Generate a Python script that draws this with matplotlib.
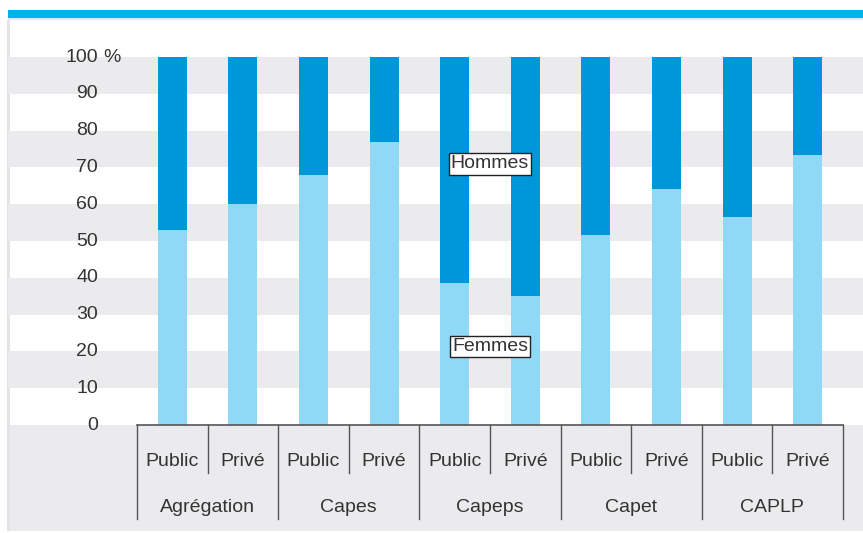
import matplotlib
matplotlib.use("Agg")
import matplotlib.pyplot as plt
from matplotlib.patches import Rectangle
import matplotlib.font_manager as fm

# ---- data ----
groups = ["Agrégation", "Capes", "Capeps", "Capet", "CAPLP"]
sectors = ["Public", "Privé"]
femmes = [53, 60, 68, 77, 38.5, 35, 51.5, 64, 56.5, 73.5]
hommes = [47, 40, 32, 23, 61.5, 65, 48.5, 36, 43.5, 26.5]
yticks = [0, 10, 20, 30, 40, 50, 60, 70, 80, 90, 100]
series_names = ["Femmes", "Hommes"]

# ---- style ----
names = {f.name for f in fm.fontManager.ttflist}
family = ["Liberation Sans Narrow", "DejaVu Sans"] if "Liberation Sans Narrow" in names else ["Liberation Sans", "DejaVu Sans"]
plt.rcParams["font.family"] = family
TXT = "#333333"
DARK = "#0096DA"
LIGHT = "#8FD8F6"
BAND = "#EBEBED"
TOP = "#00B0F0"
LINE = "#555555"
FS = 14

W, H = 863, 533
fig = plt.figure(figsize=(W / 100, H / 100), dpi=100)

def fx(px):
    return px / W

def fy(py):
    return 1 - py / H

# background decorations (figure coordinates), behind the axes
deco = [
    ((fx(8), fy(18)), fx(W - 8), 8 / H, TOP),
    ((fx(8), fy(19.5)), fx(W - 8), 1.5 / H, "#CDEFFC"),
    ((fx(8), fy(531)), fx(W - 8), (531 - 425) / H, BAND),
    ((fx(7), fy(531)), 2.5 / W, (531 - 19.5) / H, "#E4E4E6"),
]
for xy, w, h, c in deco:
    fig.patches.append(Rectangle(xy, w, h, transform=fig.transFigure,
                                 facecolor=c, edgecolor="none", zorder=-10))

# axes: x from px 8 to 863, y from px 425 (0) to 57 (100)
ax = fig.add_axes([fx(8), fy(425), fx(W - 8), (425 - 57) / H])
ax.set_zorder(1)
ax.set_facecolor("none")
slot = 70.6
c0 = 172.3
ax.set_xlim((8 - c0) / slot, (W - c0) / slot)
ax.set_ylim(0, 100)
for s in ax.spines.values():
    s.set_visible(False)
ax.set_xticks([])
ax.set_yticks([])

# alternating bands
for lo in range(90, -1, -20):
    ax.axhspan(lo, lo + 10, color=BAND, zorder=0, lw=0)

# bars
n = len(femmes)
xs = list(range(n))
bw = 0.41
ax.bar(xs, femmes, width=bw, color=LIGHT, zorder=2, linewidth=0)
ax.bar(xs, hommes, width=bw, bottom=femmes, color=DARK, zorder=2, linewidth=0)

# y tick labels
ylab_x = (98 - 8) / (W - 8)
ytr = ax.get_yaxis_transform()
for v in yticks:
    ax.text(ylab_x, v, str(v), transform=ytr, ha="right", va="center",
            fontsize=FS, color=TXT, clip_on=False, zorder=4)
ax.text((103 - 8) / (W - 8), 100, "%", transform=ytr, ha="left", va="center",
        fontsize=FS, color=TXT, clip_on=False)

# x axis line and category separators
xtr = ax.get_xaxis_transform()
ax.plot([-0.5, n - 0.5], [0, 0], transform=xtr, color=LINE, lw=1.2, clip_on=False, zorder=3)
short = -(473 - 425) / 368
long_ = -(519 - 425) / 368
for k in range(n + 1):
    x = k - 0.5
    y1 = long_ if k % 2 == 0 else short
    ax.plot([x, x], [0, y1], transform=xtr, color=LINE, lw=1.0, clip_on=False, zorder=3)

for i in range(n):
    ax.text(i, -(462 - 425) / 368, sectors[i % 2], transform=xtr, ha="center", va="center",
            fontsize=FS, color=TXT, clip_on=False)
for g, name in enumerate(groups):
    ax.text(2 * g + 0.5, -(508 - 425) / 368, name, transform=xtr, ha="center", va="center",
            fontsize=FS, color=TXT, clip_on=False)

# series labels
box = dict(boxstyle="square,pad=0.12", facecolor="white", edgecolor="#222222", linewidth=1.0)
ax.text(4.5, 71.0, series_names[1], ha="center", va="center", fontsize=FS, color=TXT,
        bbox=box, zorder=5)
ax.text(4.5, 21.3, series_names[0], ha="center", va="center", fontsize=FS, color=TXT,
        bbox=box, zorder=5)

fig.savefig("out.png", dpi=100)
